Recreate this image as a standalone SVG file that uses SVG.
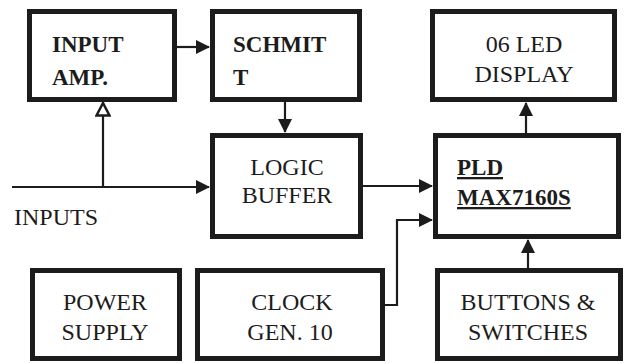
<svg xmlns="http://www.w3.org/2000/svg" width="629" height="363" viewBox="0 0 629 363">
<defs>
<style>
.box{fill:#fff;stroke:#1c1c1c;stroke-width:5}
.t{font-family:"Liberation Serif","Times New Roman",serif;font-size:24px;fill:#1c1c1c}
.b{font-weight:bold;font-size:23px}
.m{text-anchor:middle}
.u{text-decoration:underline}
.w{fill:none;stroke:#1c1c1c;stroke-width:2.2}
</style>
<marker id="ah" markerUnits="userSpaceOnUse" markerWidth="14" markerHeight="14" refX="13" refY="7" orient="auto">
<path d="M0,0 L14,7 L0,14 Z" fill="#1c1c1c"/>
</marker>
<marker id="ao" markerUnits="userSpaceOnUse" markerWidth="16" markerHeight="16" refX="14" refY="8" orient="auto">
<path d="M1.5,1.5 L14,8 L1.5,14.5 Z" fill="#fff" stroke="#1c1c1c" stroke-width="2.5"/>
</marker>
</defs>
<rect width="629" height="363" fill="#fff"/>
<g id="connectors">
<path class="w" d="M12,187 H209" marker-end="url(#ah)"/>
<path class="w" d="M103,187 V103" marker-end="url(#ao)"/>
<path class="w" d="M177,47 H209" marker-end="url(#ah)"/>
<path class="w" d="M285,102 V132" marker-end="url(#ah)"/>
<path class="w" d="M363,186 H432" marker-end="url(#ah)"/>
<path class="w" d="M385,305 H397 V220 H432" marker-end="url(#ah)"/>
<path class="w" d="M528,268 V240" marker-end="url(#ah)"/>
<path class="w" d="M526,133 V103" marker-end="url(#ah)"/>
</g>
<g id="input-amp">
<rect class="box" x="29.5" y="11.5" width="145" height="88"/>
<text class="t b" x="52" y="52">INPUT</text>
<text class="t b" x="52" y="85">AMP.</text>
</g>
<g id="schmitt">
<rect class="box" x="212.5" y="11.5" width="147" height="88"/>
<text class="t b" x="233" y="52">SCHMIT</text>
<text class="t b" x="233" y="85">T</text>
</g>
<g id="led-display">
<rect class="box" x="432.5" y="11.5" width="182" height="88"/>
<text class="t m" x="524" y="52">06 LED</text>
<text class="t m" x="524" y="82">DISPLAY</text>
</g>
<g id="logic-buffer">
<rect class="box" x="212.5" y="135.5" width="148" height="101"/>
<text class="t m" x="287" y="175">LOGIC</text>
<text class="t m" x="287" y="203">BUFFER</text>
</g>
<g id="pld">
<rect class="box" x="435.5" y="135.5" width="183" height="101"/>
<text class="t b u" x="457" y="175">PLD</text>
<text class="t b u" x="457" y="205">MAX7160S</text>
</g>
<g id="inputs-label">
<text class="t" x="14" y="225">INPUTS</text>
</g>
<g id="power-supply">
<rect class="box" x="32.5" y="270.5" width="147" height="88"/>
<text class="t m" x="105" y="310">POWER</text>
<text class="t m" x="105" y="340">SUPPLY</text>
</g>
<g id="clock-gen">
<rect class="box" x="197.5" y="270.5" width="185" height="88"/>
<text class="t m" x="292" y="310">CLOCK</text>
<text class="t m" x="290" y="340">GEN. 10</text>
</g>
<g id="buttons-switches">
<rect class="box" x="437.5" y="270.5" width="183" height="88"/>
<text class="t m" x="528" y="310">BUTTONS &amp;</text>
<text class="t m" x="528" y="340">SWITCHES</text>
</g>
</svg>
